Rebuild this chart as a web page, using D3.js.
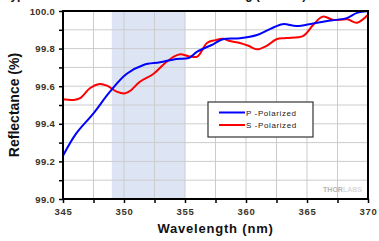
<!DOCTYPE html>
<html lang="en">
<head>
<meta charset="utf-8">
<title>Reflectance</title>
<style>
  body { margin: 0; background: #fff; }
  svg text { font-family: "Liberation Sans", Arial, sans-serif; }
</style>
</head>
<body>
<div id="chart"></div>
<script src="https://d3js.org/d3.v7.min.js"></script>
<script>
  // data
  var wavelengthP = [345, 346.1, 347.5, 348.85, 350.2, 351.6, 352.95, 354.3, 355.3, 356, 357.3, 358.1, 359.5, 360.9, 362, 363, 364.15, 365.5, 366.9, 368.25, 369.1, 370];
  var reflP = [99.23, 99.35, 99.456, 99.571, 99.665, 99.713, 99.727, 99.745, 99.75, 99.784, 99.823, 99.85, 99.855, 99.872, 99.905, 99.93, 99.92, 99.934, 99.949, 99.962, 99.99, 100.0];

  var wavelengthS = [345, 345.85, 346.4, 347.2, 348.0, 348.6, 349.4, 350.1, 350.6, 351.3, 352.4, 353.2, 354.0, 354.6, 355.3, 356.0, 356.8, 357.5, 358.1, 358.7, 359.5, 360.2, 360.9, 361.7, 362.5, 363.3, 364.7, 365.5, 366.3, 367.2, 368.3, 369.1, 370];
  var reflS = [99.53, 99.527, 99.536, 99.589, 99.612, 99.603, 99.571, 99.562, 99.58, 99.624, 99.665, 99.713, 99.754, 99.77, 99.76, 99.757, 99.83, 99.845, 99.852, 99.84, 99.83, 99.815, 99.796, 99.815, 99.85, 99.856, 99.868, 99.926, 99.97, 99.952, 99.956, 99.938, 99.98];

  var seriesNames = ["P -Polarized", "S -Polarized"];
  var seriesColors = ["#0000ff", "#ff0000"];
  var shadedBand = [349, 355];
  var xTickLabels = [345, 350, 355, 360, 365, 370];
  var yTickLabels = [99.0, 99.2, 99.4, 99.6, 99.8, 100.0];

  var width = 379, height = 241;
  var margin = {top: 11, right: 11, bottom: 42, left: 63};
  var w = width - margin.left - margin.right,
      h = height - margin.top - margin.bottom;

  var svg = d3.select("#chart").append("svg")
      .attr("width", width)
      .attr("height", height);

  // title, cut off at the top like the reference
  svg.append("text")
      .attr("x", 4)
      .attr("y", -1.5)
      .attr("font-size", 12)
      .attr("font-weight", "bold")
      .attr("fill", "#111")
      .text("Typical Reflectance of Laser Line V-Coating (45° AOI)");

  var g = svg.append("g").attr("transform", "translate(" + margin.left + "," + margin.top + ")");

  var x = d3.scaleLinear().domain([345, 370]).range([0, w]);
  var y = d3.scaleLinear().domain([99.0, 100.0]).range([h, 0]);

  g.append("rect")
      .attr("x", x(shadedBand[0]))
      .attr("width", x(shadedBand[1]) - x(shadedBand[0]))
      .attr("y", 0)
      .attr("height", h)
      .attr("fill", "#dde5f5");

  var xGrid = d3.range(345, 370.1, 2.5);
  var yGrid = d3.range(99.0, 100.01, 0.1);

  g.selectAll(".vgrid").data(xGrid).enter().append("line")
      .attr("x1", d => x(d)).attr("x2", d => x(d))
      .attr("y1", 0).attr("y2", h)
      .attr("stroke", "#cccccc").attr("stroke-width", 1);
  g.selectAll(".hgrid").data(yGrid).enter().append("line")
      .attr("y1", d => y(d)).attr("y2", d => y(d))
      .attr("x1", 0).attr("x2", w)
      .attr("stroke", "#cccccc").attr("stroke-width", 1);

  // watermark
  var wm = g.append("text")
      .attr("x", w - 6).attr("y", h - 7)
      .attr("text-anchor", "end")
      .attr("font-size", 7).attr("font-weight", "bold");
  wm.append("tspan").attr("fill", "#b5b5b5").text("THOR");
  wm.append("tspan").attr("fill", "#dadada").text("LABS");

  var line = d3.line()
      .x(d => x(d[0]))
      .y(d => y(d[1]))
      .curve(d3.curveCatmullRom.alpha(0.5));

  var dataP = wavelengthP.map((d, i) => [d, reflP[i]]);
  var dataS = wavelengthS.map((d, i) => [d, reflS[i]]);

  g.append("path").datum(dataS)
      .attr("d", line).attr("fill", "none")
      .attr("stroke", seriesColors[1]).attr("stroke-width", 2);
  g.append("path").datum(dataP)
      .attr("d", line).attr("fill", "none")
      .attr("stroke", seriesColors[0]).attr("stroke-width", 2);

  // axes
  var xAxis = g.append("g").attr("transform", "translate(0," + h + ")")
      .call(d3.axisBottom(x).tickValues(xGrid).tickSize(4).tickFormat(d => xTickLabels.indexOf(d) >= 0 ? d : ""));
  var yAxis = g.append("g")
      .call(d3.axisLeft(y).tickValues(yGrid).tickSize(4).tickFormat(d => {
        var r = Math.round(d * 10) / 10;
        return yTickLabels.indexOf(r) >= 0 ? r.toFixed(1) : "";
      }));

  [xAxis, yAxis].forEach(function(a) {
    a.select(".domain").remove();
    a.selectAll(".tick line").attr("stroke", "#000").attr("stroke-width", 1.5);
    a.selectAll(".tick text")
        .attr("font-size", 9.5).attr("font-weight", "bold")
        .attr("fill", "#3a3226")
        .attr("font-family", "'Liberation Sans', Arial, sans-serif");
  });
  xAxis.selectAll(".tick text").attr("dy", "0.9em").attr("letter-spacing", 0.8);
  yAxis.selectAll(".tick text").attr("dx", "-1px").attr("letter-spacing", 0.3);

  // frame
  g.append("rect")
      .attr("x", 0).attr("y", 0).attr("width", w).attr("height", h)
      .attr("fill", "none").attr("stroke", "#000").attr("stroke-width", 2);

  // axis titles
  svg.append("text")
      .attr("transform", "translate(19," + (margin.top + h / 2) + ") rotate(-90)")
      .attr("text-anchor", "middle")
      .attr("font-size", 14).attr("font-weight", "bold")
      .attr("fill", "#111")
      .text("Reflectance (%)");
  svg.append("text")
      .attr("x", margin.left + w / 2)
      .attr("y", 233)
      .attr("text-anchor", "middle")
      .attr("font-size", 13).attr("font-weight", "bold")
      .attr("letter-spacing", 0.8)
      .attr("fill", "#111")
      .text("Wavelength (nm)");

  // legend
  var lg = svg.append("g").attr("transform", "translate(208,102)");
  lg.append("rect")
      .attr("width", 105).attr("height", 35)
      .attr("fill", "#fff").attr("stroke", "#333").attr("stroke-width", 1.2);
  seriesNames.forEach(function(name, i) {
    var yy = 10.5 + i * 12.5;
    lg.append("line")
        .attr("x1", 11).attr("x2", 37)
        .attr("y1", yy).attr("y2", yy)
        .attr("stroke", seriesColors[i]).attr("stroke-width", 2);
    lg.append("text")
        .attr("x", 38).attr("y", yy + 3)
        .attr("font-size", 8)
        .attr("letter-spacing", 0.6)
        .attr("fill", "#222")
        .text(name);
  });
</script>
</body>
</html>
